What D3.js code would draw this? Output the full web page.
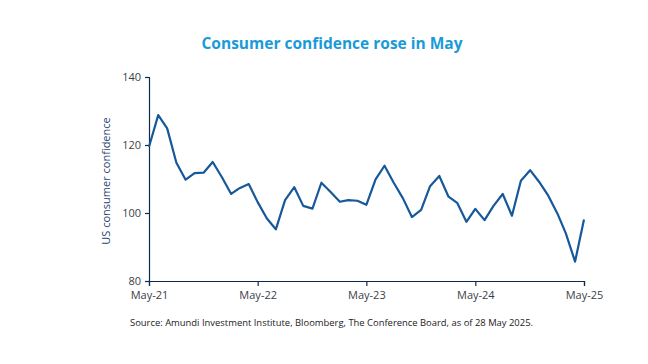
<!DOCTYPE html>
<html><head><meta charset="utf-8">
<script src="https://cdn.jsdelivr.net/npm/d3@7"></script>
<style>
html,body{margin:0;padding:0;background:#fff;}
svg{display:block;}
</style></head>
<body>
<svg id="chart" width="648" height="364"></svg>
<script>
const months = ["2021-05","2021-06","2021-07","2021-08","2021-09","2021-10","2021-11","2021-12",
"2022-01","2022-02","2022-03","2022-04","2022-05","2022-06","2022-07","2022-08","2022-09","2022-10","2022-11","2022-12",
"2023-01","2023-02","2023-03","2023-04","2023-05","2023-06","2023-07","2023-08","2023-09","2023-10","2023-11","2023-12",
"2024-01","2024-02","2024-03","2024-04","2024-05","2024-06","2024-07","2024-08","2024-09","2024-10","2024-11","2024-12",
"2025-01","2025-02","2025-03","2025-04","2025-05"];
const confidence = [119.5,128.8,124.9,114.8,109.8,111.7,111.9,115.0,
110.5,105.6,107.3,108.5,103.2,98.4,95.2,103.8,107.6,102.1,101.3,108.9,
106.2,103.3,103.8,103.6,102.4,109.9,113.9,108.9,104.3,98.8,100.9,107.9,
110.9,104.8,103.0,97.4,101.2,97.9,102.1,105.6,99.2,109.5,112.6,109.2,
105.1,99.8,94.0,85.7,98.1];
const yTicks = [80,100,120,140];
const xTickDates = ["2021-05","2022-05","2023-05","2024-05","2025-05"];
const xTickLabels = ["May-21","May-22","May-23","May-24","May-25"];
const title = "Consumer confidence rose in May";
const yLabel = "US consumer confidence";
const source = "Source: Amundi Investment Institute, Bloomberg, The Conference Board, as of 28 May 2025.";

const parse = d3.timeParse("%Y-%m");
const data = months.map((m,i)=>({date:parse(m), v:confidence[i]}));

const svg = d3.select("#chart");
const L=149, R=584, T=77, B=281;
const x = d3.scaleTime().domain([parse(months[0]), parse(months[months.length-1])]).range([L,R]);
const y = d3.scaleLinear().domain([80,140]).range([B,T]);

const font = "'Open Sans', sans-serif";
const axisColor = "#0d2b4e";

// title
svg.append("text").attr("x",332).attr("y",49).attr("text-anchor","middle")
  .attr("font-family",font).attr("font-weight","bold").attr("font-size",15.5)
  .attr("fill","#1a9ad6").text(title);

// y axis
const ya = svg.append("g").attr("transform",`translate(${L},0)`)
  .call(d3.axisLeft(y).tickValues(yTicks).tickSize(4).tickPadding(4).tickFormat(d3.format("d")));
ya.select(".domain").attr("stroke",axisColor).attr("stroke-width",1.2);
ya.selectAll(".tick line").attr("stroke",axisColor).attr("stroke-width",1.2);
ya.selectAll("text").attr("font-family",font).attr("font-size",11).attr("fill","#3a3f4a");

// x axis
const xa = svg.append("g").attr("transform",`translate(0,${B})`)
  .call(d3.axisBottom(x).tickValues(xTickDates.map(parse)).tickSize(5).tickPadding(5)
    .tickFormat((d,i)=>xTickLabels[i]));
xa.select(".domain").attr("stroke",axisColor).attr("stroke-width",1.2);
xa.selectAll(".tick line").attr("stroke",axisColor).attr("stroke-width",1.2);
xa.selectAll("text").attr("font-family",font).attr("font-size",11).attr("fill","#3a3f4a");

// y label
svg.append("text").attr("transform",`translate(110,${(T+B)/2+2}) rotate(-90)`)
  .attr("text-anchor","middle").attr("font-family",font).attr("font-size",11)
  .attr("fill","#1f3f72").text(yLabel);

// line
svg.append("path").datum(data)
  .attr("fill","none").attr("stroke","#17589a").attr("stroke-width",2.2)
  .attr("stroke-linejoin","round")
  .attr("d", d3.line().x(d=>x(d.date)).y(d=>y(d.v)));

// source
svg.append("text").attr("x",130).attr("y",326)
  .attr("font-family",font).attr("font-size",8.6).attr("fill","#222")
  .attr("textLength",403).attr("lengthAdjust","spacingAndGlyphs").text(source);
</script>
</body></html>
